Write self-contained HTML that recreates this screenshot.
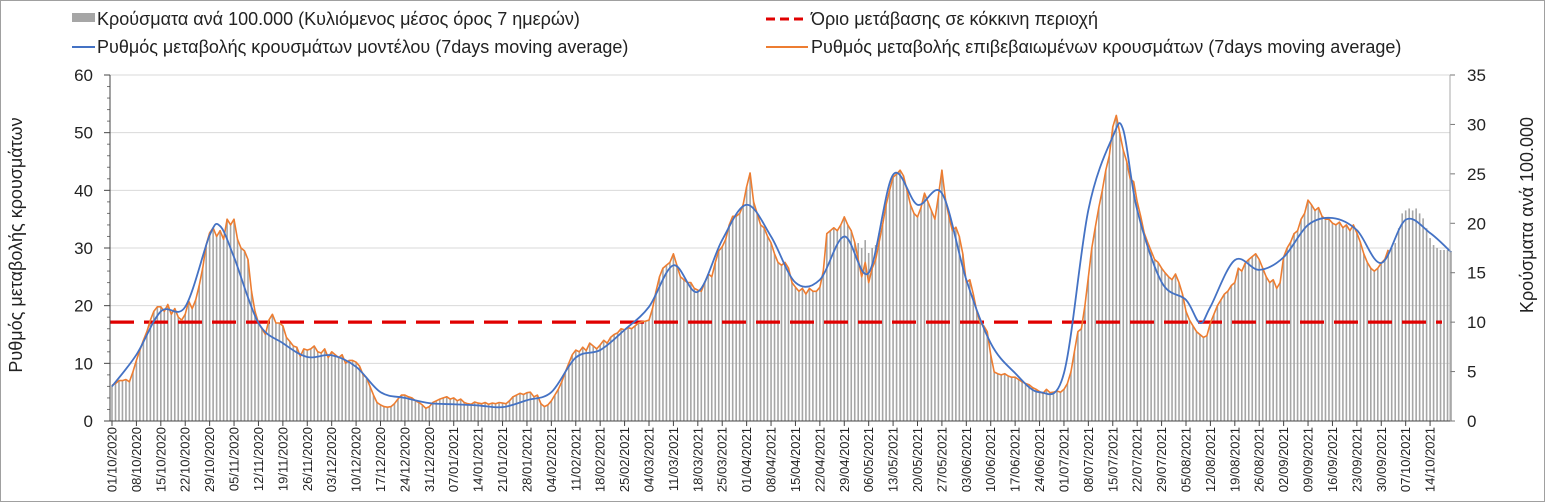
<!DOCTYPE html>
<html><head><meta charset="utf-8"><style>
body{margin:0;background:#fff;}
svg{display:block;font-family:"Liberation Sans","DejaVu Sans",sans-serif;}
</style></head><body>
<svg id="chart" width="1545" height="502" viewBox="0 0 1545 502" xmlns="http://www.w3.org/2000/svg">
<rect x="0.5" y="0.5" width="1544" height="501" fill="#fff" stroke="#a0a0a0"/>
<g id="grid"></g><g id="bars"></g><g id="lines"></g><g id="axes"></g>
<g font-size="18" fill="#222">
 <g><rect x="72" y="13" width="23" height="9" fill="#a6a6a6"/><text x="97" y="25">Κρούσματα ανά 100.000 (Κυλιόμενος μέσος όρος 7 ημερών)</text></g>
 <g><line x1="72" y1="47" x2="95" y2="47" stroke="#4472c4" stroke-width="2"/><text x="97" y="53">Ρυθμός μεταβολής κρουσμάτων μοντέλου (7days moving average)</text></g>
 <g><line x1="766" y1="19" x2="808" y2="19" stroke="#e00000" stroke-width="3" stroke-dasharray="9,5"/><text x="811" y="25">Όριο μετάβασης σε κόκκινη περιοχή</text></g>
 <g><line x1="766" y1="47" x2="808" y2="47" stroke="#ed7d31" stroke-width="2"/><text x="811" y="53">Ρυθμός μεταβολής επιβεβαιωμένων κρουσμάτων (7days moving average)</text></g>
</g>
<text transform="translate(22,245) rotate(-90)" text-anchor="middle" font-size="18" fill="#222">Ρυθμός μεταβολής κρουσμάτων</text>
<text transform="translate(1533,215) rotate(-90)" text-anchor="middle" font-size="18" fill="#222">Κρούσματα ανά 100.000</text>
</svg>
<script>
const leftTicks=[0,10,20,30,40,50,60];
const rightTicks=[0,5,10,15,20,25,30,35];
const thresholdRight=10;
const barValues=[3.6,3.8,4.1,4.1,4.2,4.0,5.0, 6.1,7.2,8.2,9.0,10.2,11.1,11.6, 11.6,11.1,11.8,10.8,11.4,10.5,10.2, 10.8,12.1,11.4,12.3,13.7,15.5,17.8,
19.0,19.5,18.7,19.3,18.4,20.4,19.8, 20.4,18.4,17.5,17.2,16.3,13.1,11.1, 9.9,9.3,8.8,10.2,10.8,9.9,9.9, 9.6,8.5,8.1,7.6,7.5,6.5,7.3,
7.2,7.3,7.6,7.0,6.9,7.3,6.4, 7.0,6.7,6.4,6.7,5.8,6.1,6.1, 6.0,5.5,4.7,4.4,3.5,2.6,1.9, 1.6,1.5,1.4,1.5,1.8,2.2,2.6,
2.6,2.5,2.3,2.0,1.9,1.6,1.3, 1.5,1.9,2.0,2.2,2.3,2.5,2.2, 2.3,2.0,2.2,1.9,1.8,1.7,1.9, 1.8,1.8,1.9,1.7,1.8,1.8,1.9,
1.8,1.8,2.0,2.5,2.6,2.8,2.7, 2.9,2.9,2.5,2.6,1.8,1.5,1.6, 2.0,2.6,3.2,4.0,5.0,5.8,6.7, 7.2,7.0,7.5,7.1,7.9,7.6,7.3,
7.7,8.2,7.9,8.5,8.8,8.9,9.3, 9.2,9.5,9.3,9.6,9.9,10.0,10.1, 10.2,11.4,13.1,14.6,15.5,15.8,16.0, 16.9,15.8,14.6,14.3,14.0,14.0,13.4,
13.2,13.1,14.0,14.9,14.6,16.0,17.2, 17.6,18.4,19.8,20.7,20.7,21.0,21.9, 23.7,25.1,22.2,21.0,19.8,19.5,18.7, 18.0,16.9,16.0,15.8,16.0,15.5,14.0,
13.5,13.1,13.4,12.8,13.4,13.1,13.1, 13.5,15.2,19.0,19.3,19.5,19.3,19.8, 20.7,19.8,19.3,18.1,18.0,17.5,18.3, 17.0,17.5,17.8,19.0,19.8,21.9,23.3,
24.7,25.0,25.4,24.8,23.3,21.9,21.0, 20.7,21.6,23.0,22.2,21.3,20.4,22.8, 25.4,22.5,20.7,19.3,19.6,18.7,16.9, 14.0,14.3,12.8,11.1,9.9,9.6,9.0,
6.7,5.0,4.8,4.7,4.8,4.6,4.4, 4.4,4.2,4.0,3.8,3.7,3.4,3.2, 3.0,2.8,3.2,2.9,2.9,3.0,2.9, 3.2,3.8,5.0,7.0,9.0,9.3,11.7,
14.6,17.5,19.6,21.6,23.3,25.4,26.8, 29.8,30.9,29.2,27.4,26.3,24.5,24.2, 22.2,20.7,19.0,18.1,17.2,16.3,16.0, 15.5,15.0,14.6,14.3,14.9,14.0,12.8,
11.1,10.2,9.6,9.0,8.8,8.5,8.6, 9.9,10.8,11.7,12.3,12.8,13.1,13.7, 14.0,15.5,15.2,16.0,16.3,16.6,16.9, 16.3,15.5,14.6,14.0,14.3,13.4,14.0,
16.6,17.5,18.1,19.0,19.3,20.4,21.0, 22.3,21.9,21.3,21.6,20.7,20.4,20.4, 20.0,19.8,20.1,19.5,19.8,19.3,19.8, 19.0,18.1,16.9,16.0,15.5,15.2,15.5,
16.0,16.3,17.3,17.5,18.0,19.5,21.0, 21.3,21.5,21.3,21.5,21.0,20.5,19.5, 18.5,17.8,17.5,17.3,17.3,17.3,17.2];
const confirmedRate=[6.2,6.5,7.0,7.0,7.2,6.8,8.5, 10.5,12.3,14.0,15.5,17.5,19.0,19.8, 19.8,19.0,20.2,18.5,19.5,18.0,17.5, 18.5,20.8,19.5,21.0,23.5,26.5,30.5,
32.6,33.5,32.0,33.0,31.5,35.0,34.0, 35.0,31.5,30.0,29.5,28.0,22.5,19.0, 17.0,16.0,15.0,17.5,18.5,17.0,17.0, 16.5,14.5,13.8,13.0,12.8,11.2,12.5,
12.3,12.5,13.0,12.0,11.8,12.5,11.0, 12.0,11.5,11.0,11.5,10.0,10.5,10.5, 10.2,9.5,8.0,7.5,6.0,4.5,3.2, 2.8,2.5,2.4,2.5,3.0,3.8,4.5,
4.5,4.2,4.0,3.5,3.2,2.8,2.2, 2.5,3.2,3.5,3.8,4.0,4.2,3.8, 4.0,3.5,3.8,3.2,3.0,2.9,3.3, 3.1,3.0,3.2,2.9,3.1,3.0,3.2,
3.1,3.0,3.5,4.2,4.5,4.8,4.6, 4.9,5.0,4.2,4.5,3.0,2.5,2.8, 3.5,4.5,5.5,6.8,8.5,10.0,11.5, 12.3,12.0,12.8,12.2,13.5,13.0,12.5,
13.2,14.0,13.5,14.5,15.0,15.3,16.0, 15.8,16.2,16.0,16.5,17.0,17.2,17.3, 17.5,19.5,22.5,25.0,26.5,27.0,27.5, 29.0,27.0,25.0,24.5,24.0,24.0,23.0,
22.7,22.5,24.0,25.5,25.0,27.5,29.5, 30.2,31.5,34.0,35.5,35.5,36.0,37.5, 40.6,43.0,38.0,36.0,34.0,33.5,32.0, 30.9,29.0,27.5,27.0,27.5,26.5,24.0,
23.2,22.5,23.0,22.0,23.0,22.5,22.5, 23.2,26.0,32.5,33.0,33.5,33.0,34.0, 35.4,34.0,33.0,31.0,28.0,25.0,27.5, 24.0,26.5,28.0,31.0,34.0,37.5,40.0,
42.3,42.8,43.5,42.5,40.0,37.5,36.0, 35.4,37.0,39.5,38.0,36.5,35.0,39.0, 43.5,38.5,35.5,33.0,33.6,32.0,29.0, 24.0,24.5,22.0,19.0,17.0,16.5,15.5,
11.5,8.5,8.2,8.0,8.2,7.8,7.6, 7.6,7.2,6.8,6.5,6.3,5.8,5.5, 5.1,4.8,5.5,4.9,5.0,5.2,5.0, 5.5,6.5,8.5,12.0,15.5,16.0,20.0,
25.0,30.0,33.6,37.0,40.0,43.5,46.0, 51.0,53.0,50.0,47.0,45.0,42.0,41.5, 38.0,35.5,32.6,31.0,29.5,28.0,27.5, 26.5,25.7,25.0,24.5,25.5,24.0,22.0,
19.0,17.5,16.5,15.5,15.0,14.5,14.8, 17.0,18.5,20.0,21.0,22.0,22.5,23.5, 24.0,26.5,26.0,27.4,28.0,28.5,29.0, 28.0,26.5,25.0,24.0,24.5,23.0,24.0,
28.4,30.0,31.0,32.5,33.0,35.0,36.0, 38.3,37.5,36.5,37.0,35.5,35.0,35.0, 34.3,34.0,34.5,33.5,34.0,33.0,34.0, 32.6,31.0,29.0,27.5,26.5,26.0,26.5,
27.4,28.0,29.7];
const modelDay=[0,7,14,21,28,31,35,42,49,56,63,70,77,84,91,98,105,112,119,126,133,140,147,154,161,168,175,182,189,196,203,210,217,224,231,238,245,252,259,266,273,280,287,290,294,301,308,312,315,322,329,336,343,350,357,364,371,378,384];
const modelRate=[6,11.5,19,19.8,32.2,33.8,28.4,17,13.5,11.1,11.4,9.4,5,4,3.1,2.9,2.7,2.4,3.6,5,11,12.3,15.8,19.8,27,22.4,31.4,37.5,32,24,24.5,32,25.7,42.7,37.5,39.5,24.5,13.5,8.3,5,8.3,36.6,49.3,50.5,36.6,24.1,21,17,19.8,27.9,26.2,28.4,34,35.2,33.1,27.4,34.9,32.6,29.3];
const startDate=new Date(2020,9,1);

const NS="http://www.w3.org/2000/svg";
const X0=112, DX=3.487, Y0=421, YTOP=75;
const xs=d=>X0+d*DX;
const yL=v=>Y0-(v/60)*(Y0-YTOP);
const yR=v=>Y0-(v/35)*(Y0-YTOP);
function mk(tag,attrs,parent){const e=document.createElementNS(NS,tag);for(const k in attrs)e.setAttribute(k,attrs[k]);parent.appendChild(e);return e;}
const grid=document.getElementById('grid'),bars=document.getElementById('bars'),lines=document.getElementById('lines'),axes=document.getElementById('axes');
leftTicks.forEach(t=>{if(t>0){const g=mk('line',{x1:110,x2:1450,y1:yL(t),y2:yL(t),stroke:'#d9d9d9','stroke-width':1},grid);

}
const tx=mk('text',{x:93,y:yL(t)+6,'text-anchor':'end','font-size':17,fill:'#222'},axes);tx.textContent=t;


mk('line',{x1:104,x2:110,y1:yL(t),y2:yL(t),stroke:'#444'},axes);});
for(let v=2;v<60;v+=2){if(v%10)mk('line',{x1:107,x2:110,y1:yL(v),y2:yL(v),stroke:'#777'},axes);}
rightTicks.forEach(t=>{const tx=mk('text',{x:1467,y:yR(t)+6,'font-size':17,fill:'#222'},axes);tx.textContent=t;


mk('line',{x1:1450,x2:1455,y1:yR(t),y2:yR(t),stroke:'#777'},axes);});
barValues.forEach((v,i)=>{const r=mk('rect',{x:xs(i)-0.8,y:yR(v),width:1.6,height:Y0-yR(v),fill:'#a6a6a6'},bars);

});
const thr=mk('line',{x1:110,x2:1442,y1:yR(thresholdRight),y2:yR(thresholdRight),stroke:'#e00000','stroke-width':3.2,'stroke-dasharray':'24,10'},lines);


const op=mk('polyline',{points:confirmedRate.map((v,i)=>xs(i).toFixed(1)+','+yL(v).toFixed(1)).join(' '),fill:'none',stroke:'#ed7d31','stroke-width':1.6,'stroke-linejoin':'round'},lines);


const P=modelDay.map((d,i)=>[xs(d),yL(modelRate[i])]);
let dstr='M'+P[0][0]+','+P[0][1];
for(let i=0;i<P.length-1;i++){const p0=P[Math.max(0,i-1)],p1=P[i],p2=P[i+1],p3=P[Math.min(P.length-1,i+2)];
dstr+=' C'+(p1[0]+(p2[0]-p0[0])/6)+','+(p1[1]+(p2[1]-p0[1])/6)+' '+(p2[0]-(p3[0]-p1[0])/6)+','+(p2[1]-(p3[1]-p1[1])/6)+' '+p2[0]+','+p2[1];}
const bp=mk('path',{d:dstr,fill:'none',stroke:'#4472c4','stroke-width':1.8},lines);


mk('line',{x1:110,x2:110,y1:YTOP,y2:Y0,stroke:'#444'},axes);
mk('line',{x1:1450,x2:1450,y1:YTOP,y2:Y0,stroke:'#aaa'},axes);
mk('line',{x1:110,x2:1450,y1:Y0,y2:Y0,stroke:'#444'},axes);
for(let d=0;d<barValues.length;d+=7){const x=xs(d);mk('line',{x1:x,x2:x,y1:Y0,y2:Y0+5,stroke:'#444'},axes);
const dt=new Date(startDate.getTime());dt.setDate(dt.getDate()+d);
const s=String(dt.getDate()).padStart(2,'0')+'/'+String(dt.getMonth()+1).padStart(2,'0')+'/'+dt.getFullYear();
const tx=mk('text',{transform:'translate('+(x+4.5)+','+(Y0+6)+') rotate(-90)','text-anchor':'end','font-size':13,fill:'#222'},axes);tx.textContent=s;

}
</script>
</body></html>
